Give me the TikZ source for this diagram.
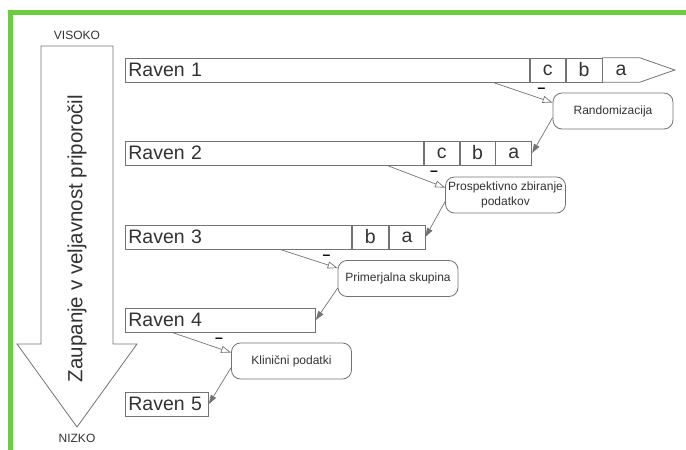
\documentclass[tikz,border=0pt]{standalone}
\usepackage{fontspec}
\setmainfont{Liberation Sans}
\usetikzlibrary{arrows.meta,calc}
\definecolor{frame}{RGB}{108,204,64}
\definecolor{ln}{RGB}{115,115,115}
\definecolor{txt}{RGB}{50,50,50}

\begin{document}
\begin{tikzpicture}[x=1pt,y=-1pt,
  every node/.style={text=txt, font=\fontsize{12}{14}\selectfont},
  lvl/.style={draw=ln, line width=0.8pt, rectangle, anchor=west,
    minimum height=24pt, inner xsep=3pt, inner ysep=0pt, align=left,
    font=\fontsize{19.5}{22}\selectfont},
  cell/.style={draw=ln, line width=0.8pt, rectangle, anchor=west,
    minimum height=24pt, minimum width=#1, inner sep=0pt,
    font=\fontsize{19.5}{22}\selectfont},
  tipcell/.style={rectangle, anchor=west, minimum height=24pt,
    minimum width=#1, inner sep=0pt, font=\fontsize{19.5}{22}\selectfont},
  crit/.style={draw=ln, line width=0.8pt, rounded corners=9pt,
    minimum width=120pt, minimum height=36pt, align=center, inner sep=2pt,
    font=\fontsize{12}{15}\selectfont},
  minus/.style={inner sep=0pt, text=black, font=\bfseries\fontsize{14}{16}\selectfont},
  tocrit/.style={draw=ln, line width=0.7pt, -{Triangle[open,length=10pt,width=7pt]}},
  tolvl/.style={draw=ln, line width=0.7pt, -{Triangle[length=9pt,width=6pt]}},
  outline/.style={draw=ln, line width=0.8pt}
]
\useasboundingbox (0,0) rectangle (686,450);

% green frame
\draw[frame, line width=5pt] (10,450) -- (10,12.5) -- (686,12.5);

% confidence arrow
\draw[outline] (41,46) -- (113,46) -- (113,344) -- (137,344) -- (77,427)
  -- (17,344) -- (41,344) -- cycle;
\node (hi) at (77,35) {VISOKO};
\node (lo) at (77,438) {NIZKO};
\node[rotate=90, font=\fontsize{20.5}{24}\selectfont] (trust) at (77,238.5)
  {Zaupanje v veljavnost priporočil};

% level 1
\node[lvl, text width=398pt] (r1) at (125,70) {Raven 1};
\node[cell=35pt] (r1c) at (r1.east) {c};
\node[cell=36pt] (r1b) at (r1c.east) {b};
\node[tipcell=37pt] (r1a) at (r1b.east) {a};
\draw[outline] (r1a.north west) -- (r1a.north east) -- ($(r1a.east)+(35,0)$)
  -- (r1a.south east) -- (r1a.south west);

% level 2
\node[lvl, text width=292pt] (r2) at (125,153) {Raven 2};
\node[cell=35pt] (r2c) at (r2.east) {c};
\node[cell=35pt] (r2b) at (r2c.east) {b};
\node[cell=36pt] (r2a) at (r2b.east) {a};

% level 3
\node[lvl, text width=220pt] (r3) at (125,237) {Raven 3};
\node[cell=36pt] (r3b) at (r3.east) {b};
\node[cell=36pt] (r3a) at (r3b.east) {a};

% levels 4 and 5
\node[lvl, text width=184pt] (r4) at (125,320) {Raven 4};
\node[lvl, text width=77pt] (r5) at (125,404) {Raven 5};

% criteria
\node[crit] (k1) at (613,111) {Randomizacija};
\node[crit] (k2) at (505.5,195) {Prospektivno zbiranje\\podatkov};
\node[crit] (k3) at (398,278.5) {Primerjalna skupina};
\node[crit] (k4) at (291.5,361) {Klinični podatki};

% missing criterion -> step down
\draw[tocrit] ($(r1.south west)+(368,0)$) -- ($(k1.north west)+(0,10)$);
\draw[tocrit] ($(r2.south west)+(262,0)$) -- ($(k2.north west)+(0,11)$);
\draw[tocrit] ($(r3.south west)+(155,0)$) -- ($(k3.north west)+(0,8)$);
\draw[tocrit] ($(r4.south west)+(47,0)$) -- ($(k4.north west)+(0,10)$);

\node[minus] (m1) at ($(k1.north west)+(-11,-2)$) {–};
\node[minus] (m2) at ($(k2.north west)+(-11,-3)$) {–};
\node[minus] (m3) at ($(k3.north west)+(-11,-3)$) {–};
\node[minus] (m4) at ($(k4.north west)+(-12,-2)$) {–};

\draw[tolvl] ($(k1.north west)+(0,25)$) -- (r2a.east);
\draw[tolvl] ($(k2.north west)+(0,25)$) -- (r3a.east);
\draw[tolvl] ($(k3.north west)+(0,28)$) -- (r4.east);
\draw[tolvl] ($(k4.north west)+(0,25)$) -- (r5.east);
\end{tikzpicture}
\end{document}
